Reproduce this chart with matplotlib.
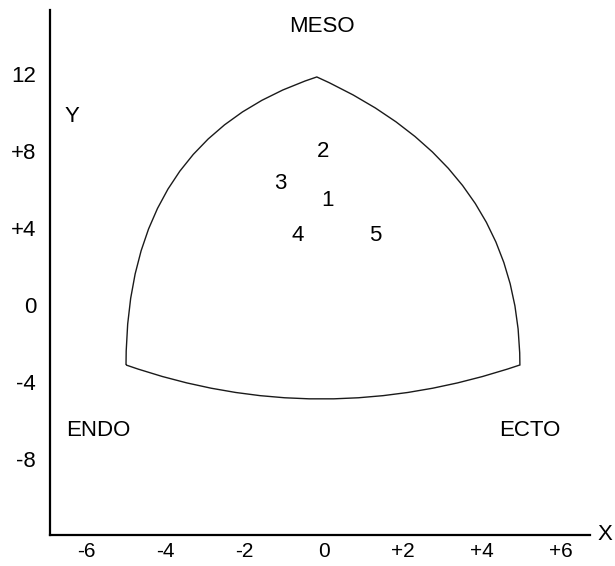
#!/usr/bin/env python3
"""Somatochart outline with five numbered positions."""
import matplotlib
matplotlib.use('Agg')
import matplotlib.pyplot as plt
from matplotlib.path import Path
from matplotlib.patches import PathPatch

plt.rcParams['font.family'] = ['Liberation Sans', 'DejaVu Sans']

# corners of the chart and curve control points (data units)
endo_corner = (-4.99, -3.12)
meso_corner = (-0.17, 11.84)
ecto_corner = (4.96, -3.12)
left_ctrl = (-4.99, 8.62)
right_ctrl = (4.96, 7.12)
bottom_ctrl = (-0.09, -6.65)

# numbered positions
point_labels = ['1', '2', '3', '4', '5']
point_x = [0.1, 0.0, -1.1, -0.65, 1.3]
point_y = [5.4, 7.95, 6.3, 3.6, 3.6]

xticks = [-6, -4, -2, 0, 2, 4, 6]
xticklabels = ['-6', '-4', '-2', '0', '+2', '+4', '+6']
yticks = [-8, -4, 0, 4, 8, 12]
yticklabels = ['-8', '-4', '0', '+4', '+8', '12']

fig = plt.figure(figsize=(6.15, 5.66), dpi=100)
ax = fig.add_axes([0.0813, 0.0548, 0.878, 0.9276])
ax.set_xlim(-6.91, 6.73)
ax.set_ylim(-11.95, 15.32)

# outline: three curved sides
verts = [endo_corner, left_ctrl, meso_corner, right_ctrl, ecto_corner,
         bottom_ctrl, endo_corner]
codes = [Path.MOVETO, Path.CURVE3, Path.CURVE3, Path.CURVE3, Path.CURVE3,
         Path.CURVE3, Path.CURVE3]
ax.add_patch(PathPatch(Path(verts, codes), facecolor='none',
                       edgecolor='#1a1a1a', linewidth=1.0))

for lab, x, y in zip(point_labels, point_x, point_y):
    ax.text(x, y, lab, ha='center', va='center', fontsize=16)

ax.text(-0.04, 14.44, 'MESO', ha='center', va='center', fontsize=16)
ax.text(-5.7, -6.5, 'ENDO', ha='center', va='center', fontsize=16)
ax.text(5.2, -6.5, 'ECTO', ha='center', va='center', fontsize=16)
ax.text(-6.35, 9.8, 'Y', ha='center', va='center', fontsize=16)
ax.text(7.1, -11.9, 'X', ha='center', va='center', fontsize=16, clip_on=False)

ax.set_xticks(xticks)
ax.set_xticklabels(xticklabels, fontsize=15)
ax.set_yticks(yticks)
ax.set_yticklabels(yticklabels, fontsize=16)
ax.tick_params(axis='x', length=0, pad=5)
ax.tick_params(axis='y', length=0, pad=10)

for side in ['top', 'right']:
    ax.spines[side].set_visible(False)
for side in ['left', 'bottom']:
    ax.spines[side].set_linewidth(1.6)
    ax.spines[side].set_color('black')

fig.savefig('out.png', dpi=100)
plt.close()
